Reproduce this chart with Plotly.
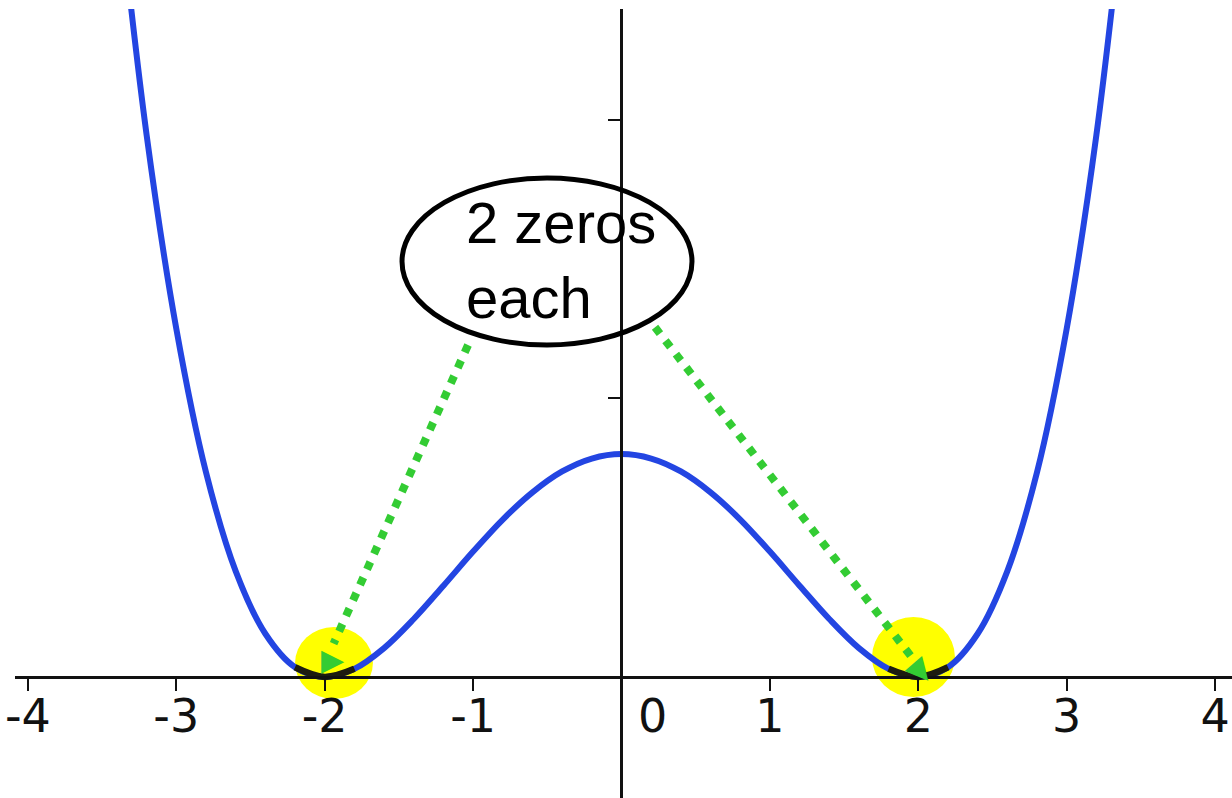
import plotly.graph_objects as go

# Curve samples
x_vals = [-3.4, -3.2, -3.0, -2.8, -2.6, -2.4, -2.2, -2.0, -1.8, -1.6, -1.4, -1.2, -1.0,
          -0.8, -0.6, -0.4, -0.2, 0.0, 0.2, 0.4, 0.6, 0.8, 1.0, 1.2, 1.4, 1.6, 1.8,
          2.0, 2.2, 2.4, 2.6, 2.8, 3.0, 3.2, 3.4]
y_vals = [57.2, 38.9, 25.0, 14.7, 7.6, 3.1, 0.7, 0.0, 0.58, 2.07, 4.16, 6.55, 9.0,
          11.3, 13.25, 14.75, 15.68, 16.0, 15.68, 14.75, 13.25, 11.3, 9.0, 6.55, 4.16, 2.07, 0.58,
          0.0, 0.7, 3.1, 7.6, 14.7, 25.0, 38.9, 57.2]

x_tickvals = [-4, -3, -2, -1, 0, 1, 2, 3, 4]
x_ticktext = ["-4", "-3", "-2", "-1", "", "1", "2", "3", "4"]
zero_label = "0"
y_tickvals = [20, 40]

x_range = [-4.087, 4.114]
y_range = [-8.69, 47.95]

# highlighted zeros (yellow marks) as data boxes
zero_marks = [(-2.20, -1.675, -1.58, 3.59), (1.688, 2.247, -1.44, 4.31)]

fig = go.Figure()

fig.add_trace(go.Scatter(x=x_vals, y=y_vals, mode="lines",
                         line=dict(color="#2345e2", width=6, shape="spline", smoothing=1.0),
                         hoverinfo="skip", showlegend=False))

# darkened part of curve under the highlighter
for (a, b, c, d) in zero_marks:
    xs = [xv for xv in x_vals if a - 0.05 <= xv <= b + 0.05]
    ys = [y_vals[x_vals.index(xv)] for xv in xs]
    fig.add_trace(go.Scatter(x=xs, y=ys, mode="lines",
                             line=dict(color="#1c1c10", width=6.5, shape="spline", smoothing=1.0),
                             hoverinfo="skip", showlegend=False))

shapes = []
for (a, b, c, d) in zero_marks:
    shapes.append(dict(type="circle", xref="x", yref="y", x0=a, x1=b, y0=c, y1=d,
                       fillcolor="#ffff00", line=dict(width=0), layer="below"))

# callout ellipse
shapes.append(dict(type="circle", xref="x", yref="y", x0=-1.479, x1=0.475, y0=23.83, y1=35.82,
                   line=dict(color="black", width=5), fillcolor="rgba(0,0,0,0)", layer="above"))

# dotted green arrows
shapes.append(dict(type="line", xref="x", yref="y", x0=-1.034, y0=23.83, x1=-1.94, y1=2.4,
                   line=dict(color="#33cc33", width=8, dash="8px,9px"), layer="above"))
shapes.append(dict(type="line", xref="x", yref="y", x0=0.226, y0=25.1, x1=1.95, y1=1.5,
                   line=dict(color="#33cc33", width=8, dash="8px,9px"), layer="above"))

annotations = [
    dict(x=-1.061, y=29.93, xref="x", yref="y", text="2 zeros<br>each", showarrow=False,
         xanchor="left", yanchor="middle", align="left",
         font=dict(family="Liberation Sans, Arial", size=58, color="black")),
    dict(x=-1.945, y=1.28, xref="x", yref="y", text="\u25B6", showarrow=False,
         font=dict(family="DejaVu Sans", size=30, color="#33cc33"), textangle=0),
    dict(x=2.03, y=0.45, xref="x", yref="y", text="\u25B6", showarrow=False,
         font=dict(family="DejaVu Sans", size=30, color="#33cc33"), textangle=49),
    # the "0" label sits to the right of the vertical axis
    dict(x=0.206, y=0, xref="x", yref="y", text=zero_label, showarrow=False,
         xanchor="center", yanchor="top", yshift=-10,
         font=dict(family="DejaVu Sans", size=46, color="#111111")),
]

fig.update_layout(
    width=1232, height=798,
    margin=dict(l=15, r=0, t=9, b=0),
    paper_bgcolor="white", plot_bgcolor="white",
    shapes=shapes, annotations=annotations,
    xaxis=dict(range=x_range, showgrid=False, zeroline=False,
               showline=True, linecolor="#111111", linewidth=3,
               anchor="free", position=(0 - y_range[0]) / (y_range[1] - y_range[0]),
               tickmode="array", tickvals=x_tickvals, ticktext=x_ticktext,
               ticks="outside", ticklen=12, tickwidth=2, tickcolor="#111111",
               ticklabelstandoff=-14,
               tickfont=dict(family="DejaVu Sans", size=46, color="#111111")),
    yaxis=dict(range=y_range, showgrid=False, zeroline=False,
               showline=True, linecolor="#111111", linewidth=2.5,
               anchor="free", position=(0 - x_range[0]) / (x_range[1] - x_range[0]),
               tickmode="array", tickvals=y_tickvals, showticklabels=False,
               ticks="outside", ticklen=13, tickwidth=2, tickcolor="#111111"),
    showlegend=False,
)

fig.write_html("out.html", config={"displayModeBar": False},
               post_script="document.body.style.margin='0';document.body.style.overflow='hidden';")
